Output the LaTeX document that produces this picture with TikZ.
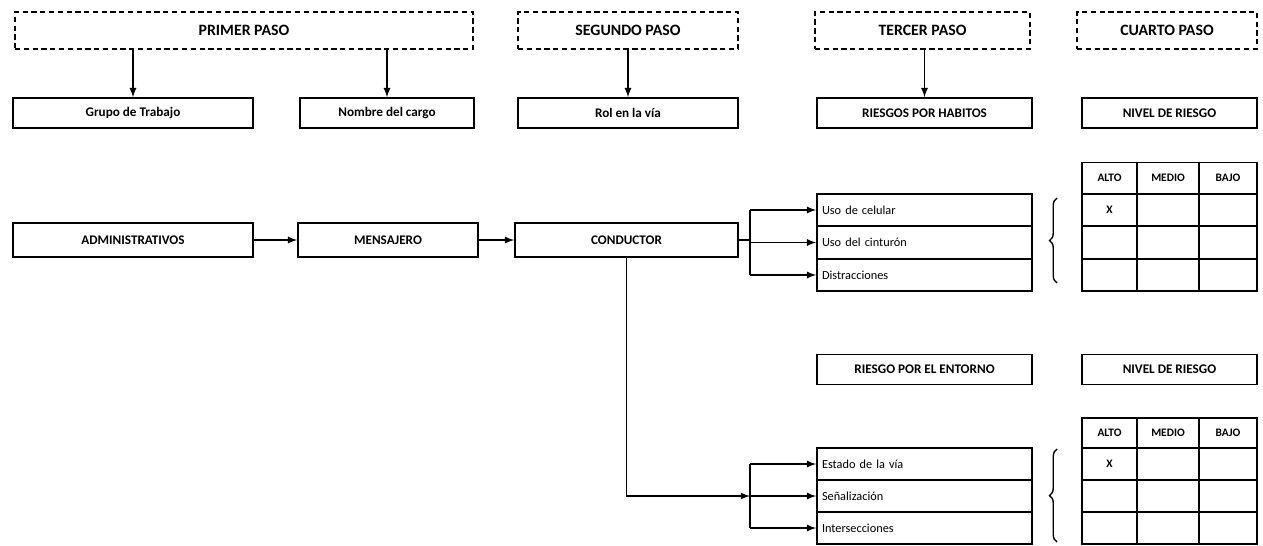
\documentclass[tikz,border=0pt]{standalone}
\usepackage{fontspec}
\setmainfont{Carlito}
\usetikzlibrary{decorations.pathreplacing}

\begin{document}
\begin{tikzpicture}[
  paso/.style={rectangle, draw, very thick, densely dashed, minimum height=0.74cm, inner sep=0pt, font=\fontsize{9}{10}\selectfont\bfseries},
  caja/.style={rectangle, draw, line width=1pt, minimum height=0.6cm, inner sep=0pt, font=\fontsize{7.5}{9}\selectfont\bfseries},
  fila/.style={rectangle, draw, line width=1pt, minimum width=4.3cm, minimum height=0.65cm, inner sep=0pt, text width=4.1cm, align=left, font=\fontsize{7}{8}\selectfont},
  celda/.style={rectangle, draw, line width=1pt, minimum height=0.65cm, inner sep=0pt, font=\fontsize{6.5}{8}\selectfont\bfseries},
  flecha/.style={thick, -latex}
]
\useasboundingbox (0, 0) rectangle (25.26, -10.9);

\node at (4.88, -0.61) [paso, minimum width=9.16cm] (h1) {PRIMER PASO};
\node at (12.56, -0.61) [paso, minimum width=4.4cm] (h2) {SEGUNDO PASO};
\node at (18.45, -0.61) [paso, minimum width=4.3cm] (h3) {TERCER PASO};
\node at (23.34, -0.61) [paso, minimum width=3.6cm] (h4) {CUARTO PASO};

\node at (2.66, -2.26) [caja, minimum width=4.8cm] (grupo) {Grupo de Trabajo};
\node at (7.74, -2.26) [caja, minimum width=3.48cm] (cargo) {Nombre del cargo};
\node at (12.56, -2.26) [caja, minimum width=4.4cm] (rol) {Rol en la vía};
\node at (18.49, -2.26) [caja, minimum width=4.3cm] (hab) {RIESGOS POR HABITOS};
\node at (23.39, -2.26) [caja, minimum width=3.5cm] (niv1) {NIVEL DE RIESGO};

\draw[flecha] (h1.south -| grupo.north) -- (grupo.north);
\draw[flecha] (h1.south -| cargo.north) -- (cargo.north);
\draw[flecha] (h2.south) -- (rol.north);
\draw[flecha] (h3.south -| hab.north) -- (hab.north);

\node at (2.66, -4.8) [caja, minimum width=4.8cm, minimum height=0.68cm] (adm) {ADMINISTRATIVOS};
\node at (7.76, -4.8) [caja, minimum width=3.6cm, minimum height=0.68cm] (men) {MENSAJERO};
\node at (12.53, -4.8) [caja, minimum width=4.46cm, minimum height=0.68cm] (cond) {CONDUCTOR};

\draw[flecha] (adm) -- (men);
\draw[flecha] (men) -- (cond);

\node at (18.49, -4.2) [fila] (r1) {Uso de celular};
\node at (18.49, -4.85) [fila] (r2) {Uso del cinturón};
\node at (18.49, -5.5) [fila] (r3) {Distracciones};

\coordinate (f1) at (15.0, -4.8);
\draw[thick] (cond.east) -- (f1);
\draw[thick] (f1 |- r1) -- (f1 |- r3);
\draw[flecha] (f1 |- r1) -- (r1.west);
\draw[flecha] (f1 |- r2) -- (r2.west);
\draw[flecha] (f1 |- r3) -- (r3.west);

\node at (22.19, -3.5625) [celda, minimum width=1.1cm, minimum height=0.625cm] (a1) {ALTO};
\node at (23.36, -3.5625) [celda, minimum width=1.24cm, minimum height=0.625cm] (m1) {MEDIO};
\node at (24.56, -3.5625) [celda, minimum width=1.16cm, minimum height=0.625cm] (b1) {BAJO};
\foreach \y/\t [count=\i] in {-4.2/X, -4.85/, -5.5/} {
  \node at (22.19, \y) [celda, minimum width=1.1cm] (a1\i) {\t};
  \node at (23.36, \y) [celda, minimum width=1.24cm] (m1\i) {};
  \node at (24.56, \y) [celda, minimum width=1.16cm] (b1\i) {};
}
\draw[thick, decorate, decoration={brace, amplitude=0.15cm}] (21.14, -5.66) -- (21.14, -3.96);

\node at (18.49, -7.39) [caja, minimum width=4.3cm] (ent) {RIESGO POR EL ENTORNO};
\node at (23.39, -7.39) [caja, minimum width=3.5cm] (niv2) {NIVEL DE RIESGO};

\node at (18.49, -9.28) [fila, minimum height=0.64cm] (e1) {Estado de la vía};
\node at (18.49, -9.92) [fila, minimum height=0.64cm] (e2) {Señalización};
\node at (18.49, -10.56) [fila, minimum height=0.64cm] (e3) {Intersecciones};

\coordinate (f2) at (15.0, -9.92);
\draw[flecha] (cond.south) |- (f2);
\draw[thick] (f2 |- e1) -- (f2 |- e3);
\draw[flecha] (f2 |- e1) -- (e1.west);
\draw[flecha] (f2 |- e2) -- (e2.west);
\draw[flecha] (f2 |- e3) -- (e3.west);

\node at (22.19, -8.66) [celda, minimum width=1.1cm, minimum height=0.6cm] (a2) {ALTO};
\node at (23.36, -8.66) [celda, minimum width=1.24cm, minimum height=0.6cm] (m2) {MEDIO};
\node at (24.56, -8.66) [celda, minimum width=1.16cm, minimum height=0.6cm] (b2) {BAJO};
\foreach \y/\t [count=\i] in {-9.28/X, -9.92/, -10.56/} {
  \node at (22.19, \y) [celda, minimum width=1.1cm, minimum height=0.64cm] (a2\i) {\t};
  \node at (23.36, \y) [celda, minimum width=1.24cm, minimum height=0.64cm] (m2\i) {};
  \node at (24.56, \y) [celda, minimum width=1.16cm, minimum height=0.64cm] (b2\i) {};
}
\draw[thick, decorate, decoration={brace, amplitude=0.15cm}] (21.14, -10.84) -- (21.14, -8.98);
\end{tikzpicture}
\end{document}
